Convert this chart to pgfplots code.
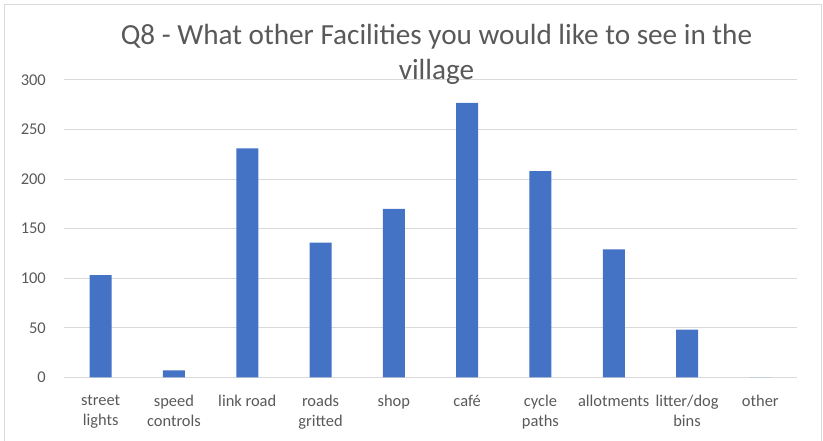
\documentclass[border=0pt]{standalone}
\usepackage{pgfplots}
\pgfplotsset{compat=1.18}
\usepackage{fontspec}
\setmainfont{Carlito}
\definecolor{barblue}{HTML}{4472C4}
\definecolor{gridgray}{HTML}{D9D9D9}
\definecolor{textgray}{HTML}{595959}
\begin{document}
\begin{tikzpicture}
\path[use as bounding box] (0,0) rectangle (823bp,441bp);
\draw[gridgray, line width=1.5bp] (4.5bp,0) -- (4.5bp,436.5bp) -- (821.5bp,436.5bp) -- (821.5bp,0);
\begin{axis}[
  at={(64bp,63.7bp)}, anchor=south west,
  scale only axis, width=733bp, height=297.3bp,
  xmin=-0.5, xmax=9.5, ymin=0, ymax=300,
  ytick={0,50,...,300},
  xtick={0,...,9},
  xticklabels={street\\lights, speed\\controls, link road, roads\\gritted, shop, café, cycle\\paths, allotments, litter/dog\\bins, other},
  axis lines=left,
  axis line style={draw=none},
  tick style={draw=none},
  major tick length=0pt,
  ymajorgrids, grid style={gridgray, line width=1bp},
  /pgf/number format/assume math mode=true,
  tick label style={font=\fontsize{16.5}{19.3}\selectfont, text=textgray},
  yticklabel style={anchor=east, inner sep=0pt, xshift=-18bp},
  xticklabel style={anchor=north, align=center, inner sep=0pt, yshift=-18bp},
  title={Q8 - What other Facilities you would like to see in the\\village},
  title style={font=\fontsize{29.3}{35}\selectfont, text=textgray, align=center, at={(rel axis cs:0.5,1)}, anchor=north, inner sep=0pt, yshift=49.5bp, xshift=6bp},
  clip=false,
]
\addplot[ybar, bar width=22bp, fill=barblue, draw=none] coordinates {
  (0,103) (1,7) (2,231) (3,136) (4,170) (5,277) (6,208) (7,129) (8,48) (9,0)
};
\end{axis}
\end{tikzpicture}
\end{document}
